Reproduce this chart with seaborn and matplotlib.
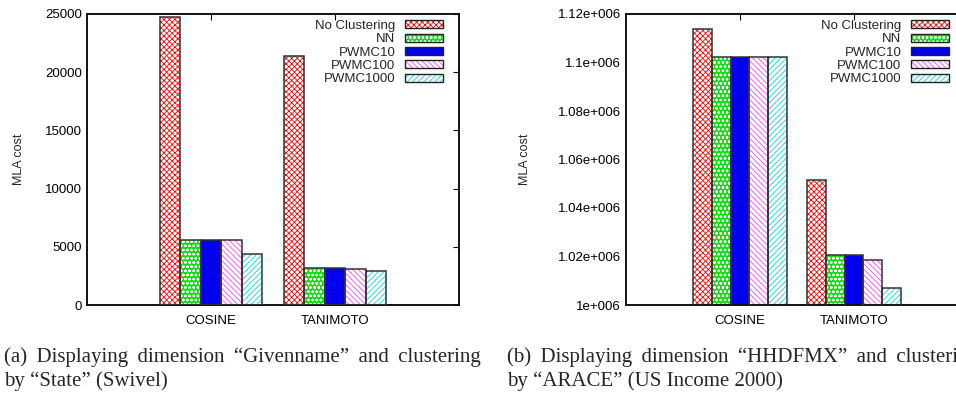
import numpy as np
import pandas as pd
import matplotlib.pyplot as plt
import seaborn as sns
from matplotlib.patches import Patch, Rectangle
from matplotlib.legend_handler import HandlerTuple

# values
metrics = ["COSINE", "TANIMOTO"]
methods = ["No Clustering", "NN", "PWMC10", "PWMC100", "PWMC1000"]
swivel_cosine = [24700, 5550, 5550, 5550, 4350]
swivel_tanimoto = [21350, 3150, 3150, 3090, 2920]
income_cosine = [1113700, 1102400, 1102400, 1102400, 1102400]
income_tanimoto = [1051400, 1020700, 1020700, 1018700, 1007000]

left_ticks = [0, 5000, 10000, 15000, 20000, 25000]
left_ticklabels = ["0", "5000", "10000", "15000", "20000", "25000"]
right_ticks = [1.0e6, 1.02e6, 1.04e6, 1.06e6, 1.08e6, 1.1e6, 1.12e6]
right_ticklabels = ["1e+006", "1.02e+006", "1.04e+006", "1.06e+006",
                    "1.08e+006", "1.1e+006", "1.12e+006"]

# first lines are justified in the paper, so spaces are a bit wider there
captions = [
    ["(a) \u2009Displaying \u2009dimension \u2009\u201cGivenname\u201d \u2009and \u2009clustering",
     "by \u201cState\u201d (Swivel)"],
    ["(b) \u2009Displaying \u2009dimension \u2009\u201cHHDFMX\u201d \u2009and \u2009clustering",
     "by \u201cARACE\u201d (US Income 2000)"],
]

# gnuplot-like fill styles: face, hatch colour, hatch
styles = {
    "No Clustering": ("white", "#ff0000", "xxxxxx"),
    "NN": ("#11dd11", "white", "oooo"),
    "PWMC10": ("#0000ee", "#0000ee", ""),
    "PWMC100": ("white", "#ff44ff", "\\" * 6),
    "PWMC1000": ("white", "#00dddd", "/" * 6),
}


def make_df(cosine, tanimoto):
    rows = []
    for m, c, t in zip(methods, cosine, tanimoto):
        rows.append({"metric": metrics[0], "method": m, "cost": c})
        rows.append({"metric": metrics[1], "method": m, "cost": t})
    return pd.DataFrame(rows)


def draw_panel(ax, df, ticks, ticklabels, ylim, leg_anchor):
    palette = {m: styles[m][0] for m in methods}
    sns.barplot(data=df, x="metric", y="cost", hue="method", order=metrics,
                hue_order=methods, palette=palette, saturation=1,
                width=0.82, gap=0, errorbar=None, legend=False, ax=ax)
    for i, cont in enumerate(ax.containers):
        face, hcol, hatch = styles[methods[i]]
        for bar in cont:
            bar.set_hatch(hatch)
            bar.set_edgecolor(hcol)
            bar.set_linewidth(0)
            ax.add_patch(Rectangle(bar.get_xy(), bar.get_width(), bar.get_height(),
                                   fill=False, ec="#333333", lw=1.1, zorder=3))
    ax.set_xlim(-1, 2)
    ax.set_ylim(*ylim)
    ax.set_yticks(ticks)
    ax.set_yticklabels(ticklabels)
    ax.set_xlabel("")
    ax.set_ylabel("MLA cost", fontsize=9)
    ax.tick_params(direction="in", top=True, right=True, length=4,
                   labelsize=9.5, width=0.8, colors="black")
    ax.tick_params(axis="x", pad=7)
    for sp in ax.spines.values():
        sp.set_linewidth(1.4)
        sp.set_color("#111111")
    handles = [(Patch(facecolor=styles[m][0], edgecolor=styles[m][1],
                      hatch=styles[m][2], lw=0),
                Patch(fill=False, edgecolor="#222222", lw=1.0)) for m in methods]
    leg = ax.legend(handles, methods, loc="upper right", frameon=False,
                    bbox_to_anchor=leg_anchor,
                    handler_map={tuple: HandlerTuple(ndivide=1, pad=0)},
                    markerfirst=False, fontsize=9.5, handlelength=2.9,
                    handleheight=0.55, labelspacing=0.1, handletextpad=0.7,
                    borderaxespad=0, borderpad=0)
    for t in leg.get_texts():
        t.set_ha("right")


sns.set_theme(style="white")
plt.rcParams["font.family"] = ["Liberation Sans", "DejaVu Sans"]
plt.rcParams["hatch.linewidth"] = 0.6

fig = plt.figure(figsize=(9.56, 3.96), dpi=100)
ax1 = fig.add_axes([87 / 956, 91 / 396, 372 / 956, 291 / 396])
ax2 = fig.add_axes([626 / 956, 91 / 396, 342 / 956, 291 / 396])

draw_panel(ax1, make_df(swivel_cosine, swivel_tanimoto),
           left_ticks, left_ticklabels, (0, 25000),
           (1 - 16 / 372, 1 - 6 / 291))
draw_panel(ax2, make_df(income_cosine, income_tanimoto),
           right_ticks, right_ticklabels, (1.0e6, 1.12e6),
           (1 - 19 / 342, 1 - 6 / 291))
ax1.yaxis.set_label_coords(-0.166, 0.5)
ax2.yaxis.set_label_coords(-0.277, 0.5)

for x0, lines in zip([4, 507], captions):
    for k, line in enumerate(lines):
        fig.text(x0 / 956, 1 - (357 + 24 * k) / 396, line, ha="left", va="center",
                 family=["Liberation Serif", "DejaVu Serif"], fontsize=15)

fig.savefig("out.png", dpi=100)
